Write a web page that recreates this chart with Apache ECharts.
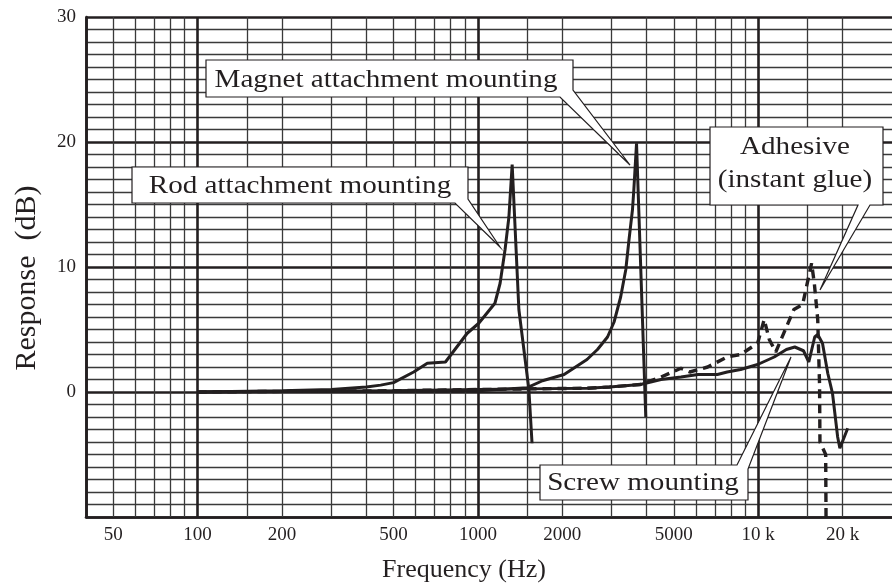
<!DOCTYPE html>
<html><head><meta charset="utf-8">
<script src="https://cdn.jsdelivr.net/npm/echarts@6/dist/echarts.min.js"></script>
<style>html,body{margin:0;padding:0;background:#fff}#c{width:892px;height:588px}</style>
</head><body><div id="c"></div>
<script>
// ---- data ----
const xTickValues = [50, 100, 200, 500, 1000, 2000, 5000, 10000, 20000];
const xTickLabels = ['50', '100', '200', '500', '1000', '2000', '5000', '10 k', '20 k'];
const yTickValues = [0, 10, 20, 30];
const majorFreqs = [40, 100, 1000, 10000];
const minorFreqs = [50, 60, 70, 80, 90, 150, 200, 300, 400, 500, 600, 700, 800, 900,
  1500, 2000, 3000, 4000, 5000, 6000, 7000, 8000, 9000, 15000, 20000];

const rodFreq = [100, 200, 300, 400, 450, 500, 590, 660, 766, 916, 1007, 1150, 1200, 1250, 1290, 1325, 1400, 1520, 1560];
const rodDb   = [0, 0.1, 0.2, 0.4, 0.55, 0.75, 1.6, 2.3, 2.4, 4.7, 5.5, 7.1, 8.7, 11.4, 14, 18.2, 6.6, 0.2, -4.1];

const magFreq = [100, 300, 1000, 1500, 1700, 2030, 2450, 2670, 2900, 3060, 3230, 3370, 3460, 3560, 3600, 3680, 3970];
const magDb   = [0, 0.05, 0.1, 0.35, 0.9, 1.4, 2.6, 3.4, 4.4, 5.6, 7.6, 9.8, 12.2, 14.6, 16.2, 19.9, -2.0];

const screwFreq = [100, 200, 500, 1000, 1500, 2450, 2950, 3800, 4500, 5300, 6100, 7150, 7750, 8650, 9950, 11400, 12600, 13500, 14500, 15150, 15900, 16300, 16950, 17700, 18400, 19200, 19550, 20850];
const screwDb   = [0, 0.05, 0.1, 0.2, 0.25, 0.3, 0.4, 0.6, 1.0, 1.2, 1.4, 1.4, 1.6, 1.8, 2.2, 2.8, 3.4, 3.6, 3.3, 2.4, 4.4, 4.6, 3.9, 1.5, -0.1, -3.6, -4.5, -2.9];

const adhFreq = [100, 200, 500, 1000, 1500, 2450, 2950, 3800, 4500, 5300, 5700, 6600, 7750, 8650, 9950, 10500, 10950, 11550, 12600, 13400, 14400, 15500, 15850, 16300, 16550, 16600, 17400, 17450];
const adhDb   = [0, 0.05, 0.1, 0.2, 0.25, 0.3, 0.4, 0.6, 1.2, 1.9, 1.6, 2.0, 2.8, 3.0, 3.9, 5.8, 4.2, 3.2, 5.2, 6.6, 7.0, 10.3, 8.7, 5.8, 0.5, -4.0, -5.0, -10];

// ---- chart ----
const INK = '#231f20';
const FONT = "'Liberation Serif', 'Times New Roman', serif";
const zip = (a, b) => a.map((v, i) => [v, b[i]]);

function curve(name, f, d, dashed) {
  return {
    name, type: 'line', data: zip(f, d), symbol: 'none', z: 3,
    lineStyle: { color: INK, width: dashed ? 3.4 : 3, type: dashed ? [9, 6] : 'solid', join: 'bevel' },
    silent: true
  };
}

function callout(text, cx, cy, pts, lh) {
  return [
    { type: 'polygon', z: 100, shape: { points: pts },
      style: { fill: '#fff', stroke: INK, lineWidth: 1.2 } },
    { type: 'text', z: 101, x: cx, y: cy, scaleX: 1.12,
      style: { text, fill: INK, font: "26px " + FONT, textAlign: 'center',
               textVerticalAlign: 'middle', lineHeight: lh || 30 } }
  ];
}

const chart = echarts.init(document.getElementById('c'), null, { renderer: 'canvas' });
chart.setOption({
  animation: false,
  backgroundColor: '#fff',
  grid: { left: 86, right: 0, top: 17, bottom: 71, containLabel: false },
  xAxis: {
    type: 'log', logBase: 10, min: 40, max: 30000,
    name: 'Frequency (Hz)', nameLocation: 'middle', nameGap: 40,
    nameTextStyle: { fontFamily: FONT, fontSize: 26, color: INK, padding: [0, 50, 0, 0] },
    axisLine: { show: true, onZero: false, lineStyle: { color: INK, width: 2.6 } },
    axisTick: { show: false },
    splitLine: { show: false },
    axisLabel: {
      customValues: xTickValues,
      formatter: v => { const i = xTickValues.indexOf(Math.round(v)); return i >= 0 ? xTickLabels[i] : ''; },
      fontFamily: FONT, fontSize: 19, color: INK, margin: 9
    }
  },
  yAxis: {
    type: 'value', min: -10, max: 30, interval: 10,
    name: 'Response  (dB)', nameLocation: 'middle', nameGap: 44, nameRotate: 90,
    nameTextStyle: { fontFamily: FONT, fontSize: 30, color: INK, padding: [0, 22, 0, 0] },
    axisLine: { show: true, onZero: false, lineStyle: { color: INK, width: 2.6 } },
    axisTick: { show: false },
    axisLabel: { customValues: yTickValues, fontFamily: FONT, fontSize: 19, color: INK, margin: 10,
      formatter: v => (v === -10 ? '' : String(v)) },
    splitLine: { show: true, lineStyle: { color: INK, width: 2.6 } },
    minorTick: { show: false, splitNumber: 10 },
    minorSplitLine: { show: true, lineStyle: { color: '#3a3a3a', width: 1.3 } }
  },
  series: [
    {
      type: 'line', data: [], silent: true,
      markLine: {
        z: 1, silent: true, symbol: 'none', animation: false,
        label: { show: false },
        data: minorFreqs.map(f => ({ xAxis: f, lineStyle: { color: '#3a3a3a', width: 1.3, type: 'solid' } }))
          .concat(majorFreqs.map(f => ({ xAxis: f, lineStyle: { color: INK, width: 2.6, type: 'solid' } })))
      }
    },
    curve('Rod attachment mounting', rodFreq, rodDb, false),
    curve('Magnet attachment mounting', magFreq, magDb, false),
    curve('Screw mounting', screwFreq, screwDb, false),
    curve('Adhesive (instant glue)', adhFreq, adhDb, true)
  ],
  graphic: [].concat(
    callout('Magnet attachment mounting', 386, 80,
      [[206, 60], [573, 60], [573, 90], [630, 165], [560, 97], [206, 97]]),
    callout('Rod attachment mounting', 300, 186,
      [[132, 167], [468, 167], [468, 199], [500, 247], [455, 203], [132, 203]]),
    callout('Adhesive\n(instant glue)', 795, 164,
      [[710, 127], [883, 127], [883, 205], [870, 205], [820, 290], [858, 205], [710, 205]], 33),
    callout('Screw mounting', 643, 483,
      [[540, 465], [737, 465], [791, 357], [748, 469], [748, 500], [540, 500]])
  )
});
</script>
</body></html>
